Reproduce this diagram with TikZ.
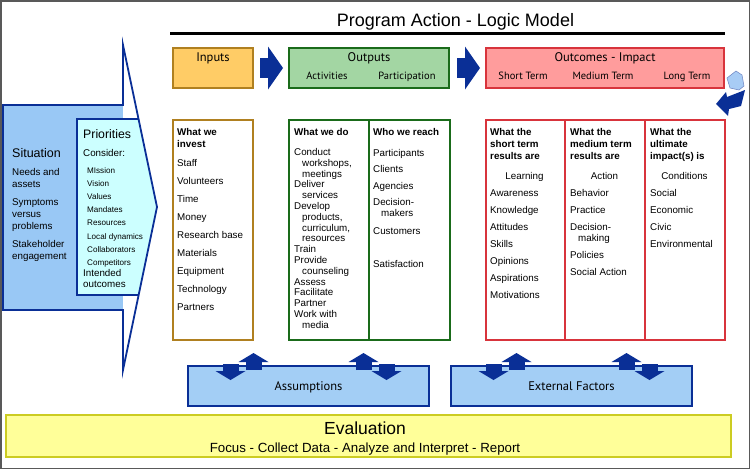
\documentclass[tikz,border=0pt]{standalone}
\usepackage{fontspec}
\setmainfont{Liberation Sans}
\newfontfamily\hdrfont{PT Sans}
\usetikzlibrary{arrows.meta,positioning,calc}
\definecolor{arrowblue}{HTML}{0A2F96}
\definecolor{inputfill}{HTML}{FFCC66}
\definecolor{inputline}{HTML}{B08020}
\definecolor{outputfill}{HTML}{A3D6A3}
\definecolor{outputline}{HTML}{1A6B1A}
\definecolor{outcomefill}{HTML}{FF9C9C}
\definecolor{outcomeline}{HTML}{D8343C}
\definecolor{sitblue}{HTML}{99C8F5}
\definecolor{pricyan}{HTML}{CCFFFF}
\definecolor{assumfill}{HTML}{A3CEF5}
\definecolor{evalfill}{HTML}{FFFF99}
\definecolor{evalline}{HTML}{CCCC22}
\definecolor{cornerblue}{HTML}{A8CCF5}
\tikzset{
  hdrbox/.style={draw, line width=2pt, anchor=north west, minimum height=40pt, inner sep=0pt},
  colbox/.style={draw, line width=2pt, fill=white, anchor=north west, minimum height=220pt, inner sep=0pt},
  hdrtext/.style={anchor=base, yshift=-4.2pt, inner sep=0pt, font=\hdrfont\fontsize{12.5}{14}\selectfont},
  subtext/.style={anchor=base, yshift=-3.5pt, inner sep=0pt, font=\hdrfont\fontsize{10.5}{12}\selectfont},
  item/.style={anchor=base west, yshift=-3.5pt, inner sep=0pt, font=\fontsize{9.8}{12}\selectfont},
  citem/.style={item, anchor=base},
  bolditem/.style={item, font=\fontsize{9.8}{12}\selectfont\bfseries},
  smallitem/.style={item, yshift=-2.9pt, font=\fontsize{8.1}{10}\selectfont},
  flowarrow/.style={line width=20pt, draw=arrowblue, -{Triangle[length=15pt,width=43pt,line width=0pt]}},
  liftarrow/.style={line width=16pt, draw=arrowblue, -{Triangle[length=9pt,width=30pt,line width=0pt]}},
  sidebox/.style={draw=arrowblue, line width=2pt, fill=assumfill, anchor=north west, minimum width=241pt, minimum height=40pt}
}

\begin{document}
\begin{tikzpicture}[x=1pt, y=-1pt]
  \useasboundingbox (0,0) rectangle (750,469);
  \draw[gray!70!black, line width=1.5pt] (0.75,0.75) rectangle (749.25,468.25);

  % title
  \node[anchor=base, inner sep=0pt, font=\fontsize{18}{20}\selectfont] (title) at (455.5,26) {Program Action - Logic Model};
  \draw[line width=3pt] (170,33) -- (725,33);

  % situation and priorities arrow
  \fill[sitblue] (3,105) rectangle (123,310);
  \fill[white] (123,45) -- (157,207) -- (123,370) -- cycle;
  \fill[pricyan] (77,119) -- (138.5,119) -- (157,207) -- (138.6,295) -- (77,295) -- cycle;
  \draw[arrowblue, line width=1.8pt] (138.5,119) -- (77,119) -- (77,295) -- (138.6,295);
  \draw[arrowblue, line width=1.8pt] (3,105) -- (123,105) -- (123,45) -- (157,207) -- (123,370) -- (123,310) -- (3,310) -- cycle;

  \node[item, yshift=-1pt, font=\fontsize{12.5}{14}\selectfont] (sit) at (12,153) {Situation};
  \foreach \yy/\txt [count=\i] in {172/Needs and, 184/assets, 202/Symptoms, 214/versus, 226/problems, 244/Stakeholder, 256/engagement}
    \node[item] (sit\i) at (12,\yy) {\txt};

  \node[item, yshift=-1pt, font=\fontsize{12.3}{14}\selectfont] (pri) at (83,134) {Priorities};
  \node[item] (pricons) at (83,153) {Consider:};
  \foreach \txt [count=\i] in {MIssion, Vision, Values, Mandates, Resources, Local dynamics, Collaborators, Competitors}
    \node[smallitem] (pri\i) at (87,{154+13.1*\i}) {\txt};
  \node[item] (prio1) at (83,273) {Intended};
  \node[item] (prio2) at (83,284) {outcomes};

  % header boxes
  \node[hdrbox, fill=inputfill, draw=inputline, minimum width=80pt] (inputs) at (172,47) {};
  \node[hdrbox, fill=outputfill, draw=outputline, minimum width=160pt] (outputs) at (288,47) {};
  \node[hdrbox, fill=outcomefill, draw=outcomeline, minimum width=238pt] (outcomes) at (485,47) {};

  \node[hdrtext] (inputs-t) at ($(inputs.north)+(0,10)$) {Inputs};
  \node[hdrtext] (outputs-t) at ($(outputs.north)+(0,10)$) {Outputs};
  \node[subtext] (act) at ($(outputs.north west)+(39,28.5)$) {Activities};
  \node[subtext] (part) at ($(outputs.north west)+(119,28.5)$) {Participation};
  \node[hdrtext] (outcomes-t) at ($(outcomes.north)+(0,10)$) {Outcomes - Impact};
  \node[subtext] (short) at ($(outcomes.north west)+(38,28.5)$) {Short Term};
  \node[subtext] (medium) at ($(outcomes.north west)+(118,28.5)$) {Medium Term};
  \node[subtext] (long) at ($(outcomes.north west)+(202,28.5)$) {Long Term};

  \draw[flowarrow] ($(inputs.east)+(6,0)$) -- ($(outputs.west)+(-5,0)$);
  \draw[flowarrow] ($(outputs.east)+(7,0)$) -- ($(outcomes.west)+(-5,0)$);

  % loop back arrow
  \filldraw[fill=cornerblue, draw=arrowblue!60, line width=0.5pt] (727,78) -- (736,71) -- (742,75) -- (744,86) -- (739,90) -- (730,88) -- cycle;
  \fill[arrowblue] (716,104) -- (726,92) -- (727,97) -- (745,90) -- (741,106) -- (729,109) -- (728,116) -- cycle;

  % columns
  \node[colbox, draw=inputline, minimum width=80pt] (invest) at (172,119) {};
  \node[colbox, draw=outputline, minimum width=80pt] (do) at (288,119) {};
  \node[colbox, draw=outputline, minimum width=81pt] (reach) at (368,119) {};
  \node[colbox, draw=outcomeline, minimum width=79pt] (shortcol) at (485,119) {};
  \node[colbox, draw=outcomeline, minimum width=80pt] (medcol) at (564,119) {};
  \node[colbox, draw=outcomeline, minimum width=80pt] (longcol) at (644,119) {};

  \node[bolditem] (invh1) at (177,132) {What we};
  \node[bolditem] (invh2) at (177,144) {invest};
  \foreach \txt [count=\i] in {Staff, Volunteers, Time, Money, Research base, Materials, Equipment, Technology, Partners}
    \node[item] (inv\i) at (177,{145+18*\i}) {\txt};

  \node[bolditem] (doh) at (294,132) {What we do};
  \foreach \txt/\ind [count=\i from 0] in {Conduct/0, {workshops,}/8, meetings/8, Deliver/0, services/8, Develop/0, {products,}/8, {curriculum,}/8, resources/8, Train/0, Provide/0, counseling/8, Assess/0, Facilitate/0, Partner/0, Work with/0, media/8}
    \node[item] (do\i) at ({294+\ind},{152+10.8*\i}) {\txt};

  \node[bolditem] (reachh) at (373,132) {Who we reach};
  \foreach \yy/\xx/\txt [count=\i] in {153/373/Participants, 169/373/Clients, 186/373/Agencies, 202/373/Decision-, 213/381/makers, 231/373/Customers, 264/373/Satisfaction}
    \node[item] (reach\i) at (\xx,\yy) {\txt};

  \foreach \x/\a/\b/\c/\lead [count=\k] in {490/What the/short term/results are/Learning, 570/What the/medium term/results are/Action, 650/What the/ultimate/impact(s) is/Conditions} {
    \node[bolditem] (oc\k-a) at (\x,132) {\a};
    \node[bolditem] (oc\k-b) at (\x,144) {\b};
    \node[bolditem] (oc\k-c) at (\x,156) {\c};
    \node[citem] (oc\k-d) at ({\x+34.5},176) {\lead};
  }
  \foreach \txt [count=\i] in {Awareness, Knowledge, Attitudes, Skills, Opinions, Aspirations, Motivations}
    \node[item] (st\i) at (490,{176+17*\i}) {\txt};
  \foreach \yy/\xx/\txt [count=\i] in {193/570/Behavior, 210/570/Practice, 227/570/Decision-, 238/578/making, 255/570/Policies, 272/570/Social Action}
    \node[item] (mt\i) at (\xx,\yy) {\txt};
  \foreach \txt [count=\i] in {Social, Economic, Civic, Environmental}
    \node[item] (lt\i) at (650,{176+17*\i}) {\txt};

  % assumptions and external factors
  \node[sidebox] (assump) at (187,365) {};
  \node[sidebox] (external) at (450,365) {};
  \node[hdrtext] (assump-t) at (assump.center) {Assumptions};
  \node[hdrtext] (external-t) at (external.center) {External Factors};
  \foreach \bx in {assump, external} {
    \draw[liftarrow] ($(\bx.north)+(-55,5)$) -- ++(0,-17);
    \draw[liftarrow] ($(\bx.north)+(55,5)$) -- ++(0,-17);
    \draw[liftarrow] ($(\bx.north)+(-78,-1)$) -- ++(0,16);
    \draw[liftarrow] ($(\bx.north)+(78,-1)$) -- ++(0,16);
  }

  % evaluation
  \node[draw=evalline, fill=evalfill, line width=2pt, anchor=north west, minimum width=725pt, minimum height=42pt, inner sep=0pt] (eval) at (5,414) {};
  \node[anchor=base, inner sep=0pt, font=\fontsize{17.5}{20}\selectfont] (eval-t) at (365,434) {Evaluation};
  \node[anchor=base, inner sep=0pt, font=\fontsize{13.3}{15}\selectfont] (eval-s) at (365,452) {Focus - Collect Data - Analyze and Interpret - Report};
\end{tikzpicture}
\end{document}
